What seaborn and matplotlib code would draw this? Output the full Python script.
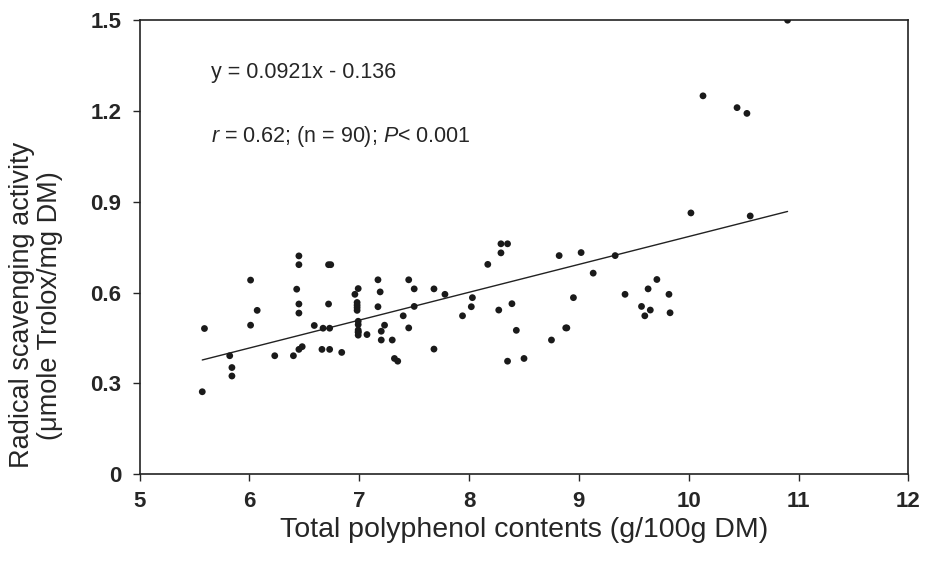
import numpy as np
import pandas as pd
import matplotlib
matplotlib.use("Agg")
import matplotlib.pyplot as plt
import seaborn as sns

# polyphenol contents (g/100g DM)
polyphenol = [
    5.59, 5.57, 5.82, 5.84, 5.84, 6.01, 6.01, 6.07, 6.23, 6.40,
    6.45, 6.45, 6.43, 6.45, 6.45, 6.45, 6.48, 6.59, 6.67, 6.73,
    6.66, 6.73, 6.72, 6.74, 6.72, 6.84, 6.96, 6.99, 6.98, 6.98,
    6.98, 6.98, 6.99, 6.99, 6.99, 6.99, 6.99, 7.07, 7.17, 7.19,
    7.17, 7.23, 7.20, 7.20, 7.30, 7.32, 7.35, 8.29, 8.35, 8.29,
    8.17, 8.82, 9.02, 9.33, 9.13, 7.45, 7.50, 7.68, 7.78, 8.03,
    8.02, 7.94, 7.50, 7.40, 7.45, 7.68, 8.27, 8.39, 8.43, 8.35,
    8.50, 8.75, 8.88, 8.89, 8.95, 9.42, 9.57, 9.60, 9.65, 9.63,
    9.71, 9.82, 9.83, 10.90, 10.13, 10.44, 10.53, 10.02, 10.56, 6.99,
]
# radical scavenging activity (umole Trolox/mg DM)
activity = [
    0.481, 0.272, 0.391, 0.352, 0.324, 0.641, 0.492, 0.541, 0.391, 0.391,
    0.721, 0.692, 0.611, 0.562, 0.532, 0.412, 0.421, 0.491, 0.482, 0.482,
    0.412, 0.412, 0.692, 0.692, 0.562, 0.402, 0.594, 0.613, 0.567, 0.558,
    0.550, 0.541, 0.505, 0.494, 0.476, 0.468, 0.459, 0.461, 0.642, 0.602,
    0.553, 0.492, 0.472, 0.443, 0.443, 0.382, 0.373, 0.761, 0.761, 0.731,
    0.693, 0.722, 0.732, 0.722, 0.664, 0.642, 0.612, 0.612, 0.594, 0.583,
    0.553, 0.523, 0.554, 0.523, 0.483, 0.413, 0.542, 0.563, 0.475, 0.373,
    0.382, 0.443, 0.483, 0.483, 0.583, 0.594, 0.554, 0.523, 0.542, 0.612,
    0.643, 0.594, 0.533, 1.500, 1.250, 1.211, 1.192, 0.863, 0.853, 0.470,
]

slope, intercept = 0.0921, -0.136
x_ticks = [5, 6, 7, 8, 9, 10, 11, 12]
y_ticks = [0, 0.3, 0.6, 0.9, 1.2, 1.5]
y_tick_labels = ["0", "0.3", "0.6", "0.9", "1.2", "1.5"]

df = pd.DataFrame({"polyphenol": polyphenol, "activity": activity})

sns.set_style("ticks")
plt.rcParams["font.family"] = ["Liberation Sans", "DejaVu Sans"]
plt.rcParams["mathtext.fontset"] = "custom"
plt.rcParams["mathtext.rm"] = "Liberation Sans"
plt.rcParams["mathtext.it"] = "Liberation Sans:italic"

fig, ax = plt.subplots(figsize=(9.25, 5.61), dpi=100)
fig.subplots_adjust(left=0.151, right=0.982, top=0.964, bottom=0.155)

sns.scatterplot(data=df, x="polyphenol", y="activity", ax=ax,
                color="#1a1a1a", s=24, edgecolor="none", zorder=3)

# regression line over the data range
xs = np.array([df.polyphenol.min(), df.polyphenol.max()])
ax.plot(xs, slope * xs + intercept, color="#222222", lw=1.0)

ax.set_xlim(5, 12)
ax.set_ylim(0, 1.5)
ax.set_xticks(x_ticks)
ax.set_yticks(y_ticks)
ax.set_xticklabels([str(t) for t in x_ticks])
ax.set_yticklabels(y_tick_labels)
ax.tick_params(labelsize=16, width=1, length=5, direction="out")
ax.tick_params(axis="x", pad=7)
ax.tick_params(axis="y", pad=8)
for lab in ax.get_xticklabels() + ax.get_yticklabels():
    lab.set_fontweight("bold")

for sp in ax.spines.values():
    sp.set_visible(True)
    sp.set_linewidth(1.2)
    sp.set_color("#222222")

ax.set_xlabel("Total polyphenol contents (g/100g DM)", fontsize=20.5, labelpad=4)
ax.set_ylabel("Radical scavenging activity\n(\u03bcmole Trolox/mg DM)", fontsize=19.5,
              linespacing=1.1)
ax.yaxis.set_label_coords(-0.1, 0.372)

ax.text(0.093, 0.884, "y = 0.0921x - 0.136", transform=ax.transAxes,
        fontsize=15.5, va="center")
ax.text(0.093, 0.743, "$r$ = 0.62; (n = 90); $P$< 0.001", transform=ax.transAxes,
        fontsize=15.5, va="center")

fig.savefig("out.png", dpi=100)
